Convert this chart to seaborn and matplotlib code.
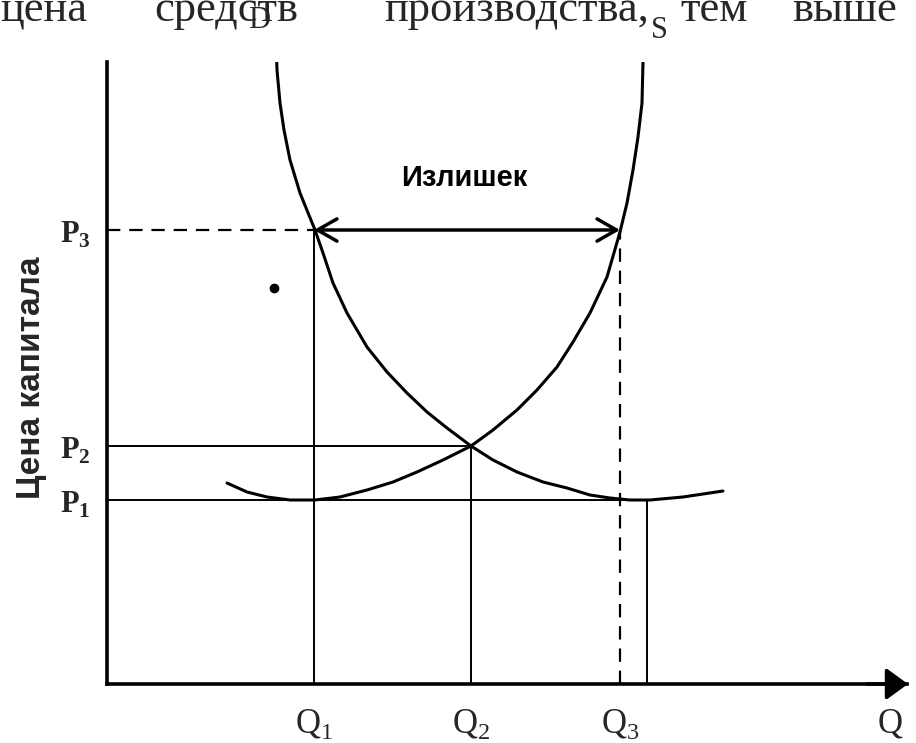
import matplotlib
matplotlib.use("Agg")
from matplotlib import pyplot as plt
from matplotlib import font_manager
import numpy as np
import pandas as pd
import seaborn as sns

# curve points (Q, P in axis units)
demand_q = [169, 170, 173, 177, 183, 193, 208, 216, 226, 240, 260, 280, 300,
            320, 340, 364, 386, 410, 436, 460, 483, 503, 523, 543, 576, 616]
demand_p = [647, 614, 581, 554, 524, 491, 454, 431, 401, 371, 337, 312, 291,
            272, 256, 238, 224, 212, 202, 196, 189, 186, 184, 184, 187, 193]
supply_q = [120, 140, 160, 183, 208, 233, 260, 286, 310, 336, 364, 386, 410,
            430, 450, 466, 483, 500, 513, 520, 526, 531, 535, 536]
supply_p = [201, 192, 187, 184, 184, 187, 194, 202, 212, 224, 238, 254, 274,
            294, 317, 342, 371, 407, 452, 481, 514, 547, 581, 622]

q_levels = [207, 364, 513]          # Q1, Q2, Q3
q_labels = ["Q", "Q", "Q"]
q_subs = ["1", "2", "3"]
q_extra = 540                        # right end of the P1 line
p_levels = [184, 238, 454]           # P1, P2, P3
p_subs = ["1", "2", "3"]
dot = (167, 396)

top_words = ["цена", "средств", "производства,", "тем", "выше"]
top_word_x = [0, 154, 384, 680, 792]

sns.set_style("white")
names = {f.name for f in font_manager.fontManager.ttflist}
narrow = "Liberation Sans Narrow" if "Liberation Sans Narrow" in names else "Liberation Sans"
serif = "Liberation Serif"
plt.rcParams["font.family"] = [serif, "DejaVu Serif"]
plt.rcParams["mathtext.fontset"] = "custom"
plt.rcParams["mathtext.rm"] = serif
plt.rcParams["mathtext.bf"] = serif + ":bold"

W, H = 916, 743
fig = plt.figure(figsize=(W / 100, H / 100), dpi=100)
fig.patch.set_facecolor("white")
ax = fig.add_axes([107 / W, 59 / H, 800 / W, 622 / H])
ax.set_xlim(0, 800)
ax.set_ylim(0, 622)
ax.set_facecolor("white")

demand = pd.DataFrame({"Q": demand_q, "P": demand_p})
supply = pd.DataFrame({"Q": supply_q, "P": supply_p})
sns.lineplot(data=demand, x="Q", y="P", sort=False, estimator=None,
             color="black", lw=2.2, ax=ax)
sns.lineplot(data=supply, x="Q", y="P", sort=False, estimator=None,
             color="black", lw=2.2, ax=ax)

q1, q2, q3 = q_levels
p1, p2, p3 = p_levels
thin = dict(color="black", lw=1.4)
dash = dict(color="black", lw=1.6, ls=(0, (6, 4)))
ax.plot([0, q1], [p3, p3], **dash)
ax.plot([q1, q1], [0, p3], **thin)
ax.plot([0, q2], [p2, p2], **thin)
ax.plot([q2, q2], [0, p2], **thin)
ax.plot([0, q_extra], [p1, p1], **thin)
ax.plot([q_extra, q_extra], [0, p1], **thin)
ax.plot([q3, q3], [0, p3], **dash)
ax.plot(*dot, "o", color="black", ms=6)

# surplus arrow
ax.annotate("", xy=(q3, p3), xytext=(q1, p3),
            arrowprops=dict(arrowstyle="<->,head_length=0.7,head_width=0.4",
                            color="black", lw=2.5, mutation_scale=20,
                            shrinkA=0, shrinkB=0))
ax.text((q1 + q3) / 2 - 3, 506, "Излишек", family=narrow, weight="bold",
        fontsize=21, ha="center", va="center", color="black")

# axes
for side in ["top", "right"]:
    ax.spines[side].set_visible(False)
for side in ["left", "bottom"]:
    ax.spines[side].set_linewidth(2.6)
    ax.spines[side].set_color("black")
ax.set_xticks([])
ax.set_yticks([])
ax.set_xlabel("")
ax.set_ylabel("")
ax.annotate("", xy=(801, 0), xytext=(760, 0), annotation_clip=False,
            arrowprops=dict(arrowstyle="-|>,head_length=0.55,head_width=0.4",
                            color="black", lw=2.6, mutation_scale=24,
                            shrinkA=0, shrinkB=0))

for q, lab, s in zip(q_levels, q_labels, q_subs):
    ax.annotate(rf"$\mathrm{{{lab}}}_{{{s}}}$", xy=(q, 0), xytext=(0, -35),
                textcoords="offset points", ha="center", va="baseline",
                fontsize=25, annotation_clip=False)
ax.annotate(r"$\mathrm{Q}$", xy=(783, 0), xytext=(0, -35),
            textcoords="offset points", ha="center", va="baseline",
            fontsize=25, annotation_clip=False)
for p, s in zip(p_levels, p_subs):
    ax.annotate(rf"$\mathbf{{P}}_{{\mathbf{{{s}}}}}$", xy=(0, p), xytext=(-23, -9),
                textcoords="offset points", ha="center", va="baseline",
                fontsize=22, annotation_clip=False)

ax.text(152, 656, "D", fontsize=22, ha="center", va="baseline")
ax.text(552, 646, "S", fontsize=22, ha="center", va="baseline")

fig.text(32 / W, 1 - 378 / H, "Цена капитала", rotation=90, family=narrow,
         weight="bold", fontsize=24, ha="center", va="center")
for word, x in zip(top_words, top_word_x):
    fig.text(x / W, 1 - 21 / H, word, fontsize=32, ha="left", va="baseline")

fig.savefig("out.png", dpi=100, facecolor="white")
